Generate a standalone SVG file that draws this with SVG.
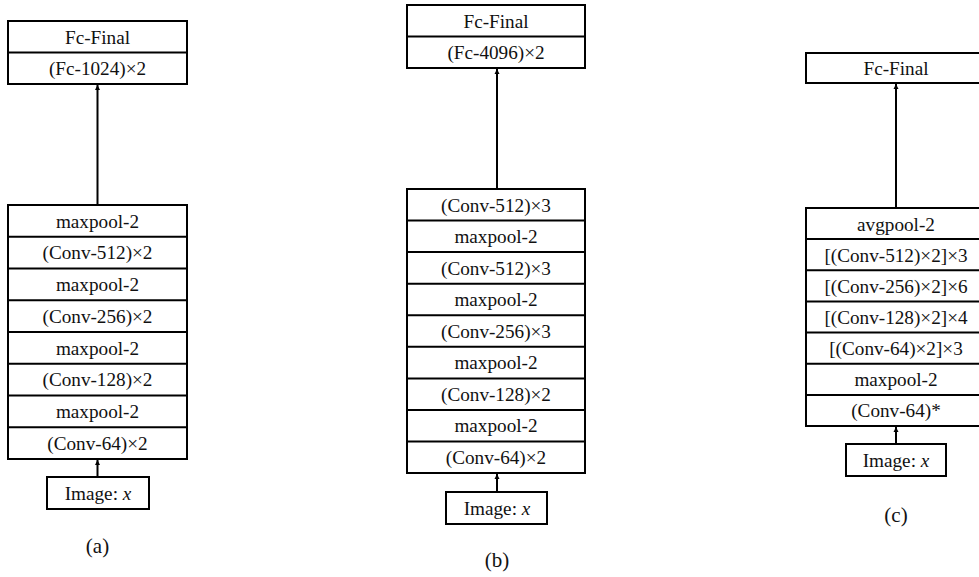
<svg xmlns="http://www.w3.org/2000/svg" width="979" height="577" viewBox="0 0 979 577">
  <defs>
    <marker id="arrow" viewBox="0 0 10 10" refX="10" refY="5" markerWidth="5" markerHeight="6" orient="auto" markerUnits="userSpaceOnUse">
      <path d="M0,0 L10,5 L0,10 z" fill="#000"/>
    </marker>
    <style>
      .box { fill: #fff; stroke: #000; stroke-width: 2; }
      .sep { stroke: #000; stroke-width: 2; }
      .lbl { font-family: 'Liberation Serif', 'Times New Roman', serif; font-size: 19.2px; fill: #111; text-anchor: middle; }
      .cap { font-family: 'Liberation Serif', 'DejaVu Serif', serif; font-size: 21px; fill: #111; text-anchor: middle; }
      .conn { stroke: #000; stroke-width: 2; fill: none; marker-end: url(#arrow); }
      .it { font-style: italic; }
    </style>
  </defs>

  <!-- Column (a) -->
  <g id="a-head">
    <rect class="box" x="8" y="21" width="179" height="63"/>
    <line class="sep" x1="8" y1="52.5" x2="187" y2="52.5"/>
    <text class="lbl" x="97.5" y="43.5">Fc-Final</text>
    <text class="lbl" x="97.5" y="75">(Fc-1024)×2</text>
  </g>
  <g id="a-body">
    <rect class="box" x="8" y="205" width="179" height="254"/>
    <line class="sep" x1="8" y1="236.75" x2="187" y2="236.75"/>
    <line class="sep" x1="8" y1="268.5" x2="187" y2="268.5"/>
    <line class="sep" x1="8" y1="300.25" x2="187" y2="300.25"/>
    <line class="sep" x1="8" y1="332" x2="187" y2="332"/>
    <line class="sep" x1="8" y1="363.75" x2="187" y2="363.75"/>
    <line class="sep" x1="8" y1="395.5" x2="187" y2="395.5"/>
    <line class="sep" x1="8" y1="427.25" x2="187" y2="427.25"/>
    <text class="lbl" x="97.5" y="227.5">maxpool-2</text>
    <text class="lbl" x="97.5" y="259">(Conv-512)×2</text>
    <text class="lbl" x="97.5" y="291">maxpool-2</text>
    <text class="lbl" x="97.5" y="322.5">(Conv-256)×2</text>
    <text class="lbl" x="97.5" y="354.5">maxpool-2</text>
    <text class="lbl" x="97.5" y="386">(Conv-128)×2</text>
    <text class="lbl" x="97.5" y="418">maxpool-2</text>
    <text class="lbl" x="97.5" y="449.5">(Conv-64)×2</text>
  </g>
  <g id="a-input">
    <rect class="box" x="47" y="477" width="102" height="32"/>
    <text class="lbl" x="98" y="500">Image: <tspan class="it">x</tspan></text>
  </g>
  <text class="cap" x="97.5" y="553">(a)</text>

  <!-- Column (b) -->
  <g id="b-head">
    <rect class="box" x="407" y="5" width="178" height="63"/>
    <line class="sep" x1="407" y1="36.5" x2="585" y2="36.5"/>
    <text class="lbl" x="496" y="27.5">Fc-Final</text>
    <text class="lbl" x="496" y="59">(Fc-4096)×2</text>
  </g>
  <g id="b-body">
    <rect class="box" x="407" y="189" width="178" height="284"/>
    <line class="sep" x1="407" y1="220.5" x2="585" y2="220.5"/>
    <line class="sep" x1="407" y1="252" x2="585" y2="252"/>
    <line class="sep" x1="407" y1="283.7" x2="585" y2="283.7"/>
    <line class="sep" x1="407" y1="315.3" x2="585" y2="315.3"/>
    <line class="sep" x1="407" y1="346.8" x2="585" y2="346.8"/>
    <line class="sep" x1="407" y1="378.5" x2="585" y2="378.5"/>
    <line class="sep" x1="407" y1="410" x2="585" y2="410"/>
    <line class="sep" x1="407" y1="441.6" x2="585" y2="441.6"/>
    <text class="lbl" x="496" y="211.5">(Conv-512)×3</text>
    <text class="lbl" x="496" y="243">maxpool-2</text>
    <text class="lbl" x="496" y="274.5">(Conv-512)×3</text>
    <text class="lbl" x="496" y="306">maxpool-2</text>
    <text class="lbl" x="496" y="337.5">(Conv-256)×3</text>
    <text class="lbl" x="496" y="369">maxpool-2</text>
    <text class="lbl" x="496" y="400.5">(Conv-128)×2</text>
    <text class="lbl" x="496" y="432">maxpool-2</text>
    <text class="lbl" x="496" y="463.5">(Conv-64)×2</text>
  </g>
  <g id="b-input">
    <rect class="box" x="446" y="492" width="101" height="32"/>
    <text class="lbl" x="497" y="515">Image: <tspan class="it">x</tspan></text>
  </g>
  <text class="cap" x="497" y="567">(b)</text>

  <!-- Column (c) -->
  <g id="c-head">
    <rect class="box" x="806" y="53" width="180" height="30"/>
    <text class="lbl" x="896" y="74.5">Fc-Final</text>
  </g>
  <g id="c-body">
    <rect class="box" x="806" y="208" width="180" height="218"/>
    <line class="sep" x1="806" y1="239.1" x2="986" y2="239.1"/>
    <line class="sep" x1="806" y1="270.3" x2="986" y2="270.3"/>
    <line class="sep" x1="806" y1="301.4" x2="986" y2="301.4"/>
    <line class="sep" x1="806" y1="332.6" x2="986" y2="332.6"/>
    <line class="sep" x1="806" y1="363.7" x2="986" y2="363.7"/>
    <line class="sep" x1="806" y1="394.9" x2="986" y2="394.9"/>
    <text class="lbl" x="896" y="230.5">avgpool-2</text>
    <text class="lbl" x="896" y="261.5">[(Conv-512)×2]×3</text>
    <text class="lbl" x="896" y="292.5">[(Conv-256)×2]×6</text>
    <text class="lbl" x="896" y="323.5">[(Conv-128)×2]×4</text>
    <text class="lbl" x="896" y="355">[(Conv-64)×2]×3</text>
    <text class="lbl" x="896" y="386">maxpool-2</text>
    <text class="lbl" x="896" y="417">(Conv-64)*</text>
  </g>
  <g id="c-input">
    <rect class="box" x="846" y="444" width="100" height="32"/>
    <text class="lbl" x="896" y="467">Image: <tspan class="it">x</tspan></text>
  </g>
  <text class="cap" x="896" y="522">(c)</text>

  <!-- Connectors -->
  <g id="connectors">
    <line class="conn" x1="97.5" y1="205" x2="97.5" y2="85"/>
    <line class="conn" x1="97.5" y1="477" x2="97.5" y2="460"/>
    <line class="conn" x1="497" y1="189" x2="497" y2="69"/>
    <line class="conn" x1="497" y1="492" x2="497" y2="474"/>
    <line class="conn" x1="896" y1="208" x2="896" y2="84"/>
    <line class="conn" x1="896" y1="444" x2="896" y2="427"/>
  </g>
</svg>
